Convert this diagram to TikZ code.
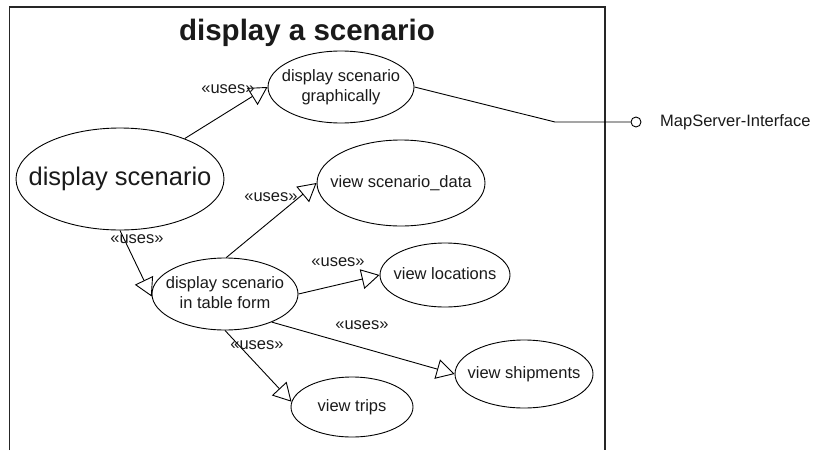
\documentclass[tikz,border=0pt]{standalone}
\usepackage{fontspec}
\setmainfont{Liberation Sans}
\usetikzlibrary{shapes.geometric,arrows.meta}
\definecolor{txt}{HTML}{1A1A1A}
\newcommand{\uctext}[1]{\makebox[0pt][c]{\begin{tabular}{@{}c@{}}#1\end{tabular}}}
\tikzset{
  uc/.style={draw=black, line width=0.9pt, ellipse, inner sep=0pt, text=txt,
    font=\fontsize{16.5}{20}\selectfont},
  uses/.style={draw=black, line width=0.9pt, -{Triangle[open,length=18pt,width=20pt,line width=0.9pt]}},
  lbl/.style={text=txt, font=\fontsize{16.5}{20}\selectfont, inner sep=0pt},
  plain/.style={draw=black, line width=0.9pt}
}
\begin{document}
\begin{tikzpicture}[x=1pt,y=-1pt]
\useasboundingbox (0,0) rectangle (816,450);
% system boundary
\draw[line width=1.2pt, draw=black!85] (9.5,450) -- (9.5,7) -- (605,7) -- (605,450);
\node[text=txt, font=\bfseries\fontsize{29.5}{34}\selectfont, inner sep=0pt] (title) at (307,33) {display a scenario};

% use cases
\node[uc, minimum width=208pt, minimum height=102pt, font=\fontsize{25.5}{30}\selectfont] (ds) at (120,179) {\uctext{display scenario}};
\node[uc, minimum width=146pt, minimum height=72pt] (gr) at (341,87) {\uctext{display scenario\\graphically}};
\node[uc, minimum width=146pt, minimum height=72pt] (tab) at (225,294) {\uctext{display scenario\\in table form}};
\node[uc, minimum width=168pt, minimum height=86pt] (data) at (401,183) {\uctext{view scenario\_data}};
\node[uc, minimum width=130pt, minimum height=64pt] (loc) at (445,275) {\uctext{view locations}};
\node[uc, minimum width=138pt, minimum height=68pt] (ship) at (524,374) {\uctext{view shipments}};
\node[uc, minimum width=122pt, minimum height=60pt] (trips) at (352,407) {\uctext{view trips}};

% interface
\node[circle, draw=black, line width=0.9pt, minimum size=10pt, inner sep=0pt] (iface) at (636,122) {};
\node[lbl, anchor=west] (ifacelbl) at (660,122) {MapServer-Interface};
\coordinate (bend) at (555,122);

% connectors
\draw[uses] (ds.32) -- (gr.180);
\draw[uses] (ds.270) -- (tab.182);
\draw[uses] (tab.88) -- (data.180);
\draw[uses] (tab.0) -- (loc.180);
\draw[uses] (tab.329) -- (ship.180);
\draw[uses] (tab.270) -- (trips.175);
\draw[plain] (gr.0) -- (bend) -- (iface.west);

% labels
\node[lbl] (l1) at (228,89) {«uses»};
\node[lbl] (l2) at (137,239) {«uses»};
\node[lbl] (l3) at (271,197) {«uses»};
\node[lbl] (l4) at (338,262) {«uses»};
\node[lbl] (l5) at (362,325) {«uses»};
\node[lbl] (l6) at (257,345) {«uses»};
\end{tikzpicture}
\end{document}
